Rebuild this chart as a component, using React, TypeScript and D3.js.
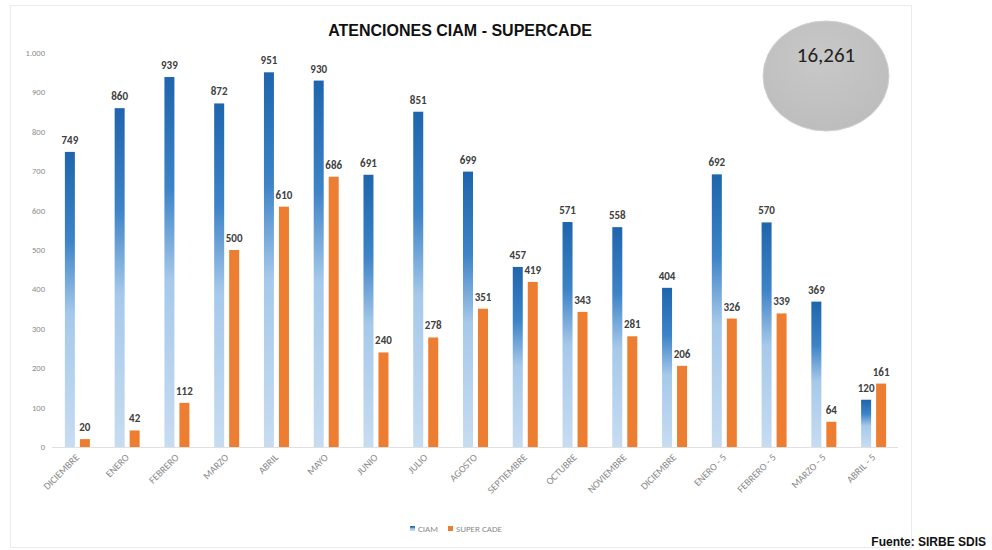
import { scaleBand, scaleLinear, format } from "d3";

const categories = [
  "DICIEMBRE", "ENERO", "FEBRERO", "MARZO", "ABRIL", "MAYO", "JUNIO", "JULIO",
  "AGOSTO", "SEPTIEMBRE", "OCTUBRE", "NOVIEMBRE", "DICIEMBRE", "ENERO - 5",
  "FEBRERO - 5", "MARZO - 5", "ABRIL - 5",
];
const ciam = [749, 860, 939, 872, 951, 930, 691, 851, 699, 457, 571, 558, 404, 692, 570, 369, 120];
const superCade = [20, 42, 112, 500, 610, 686, 240, 278, 351, 419, 343, 281, 206, 326, 339, 64, 161];
const yTicks = [0, 100, 200, 300, 400, 500, 600, 700, 800, 900, 1000];
const total = "16,261";

const W = 992;
const H = 550;

export default function App() {
  const x = scaleBand<number>()
    .domain(categories.map((_, i) => i))
    .range([52, 898]);
  const y = scaleLinear().domain([0, 1000]).range([447, 53]);
  const fmt = (v: number) => format(",")(v).replace(/,/g, ".");
  const barW = 10;
  const font = "Calibri, Carlito, 'Liberation Sans', Arial, sans-serif";

  return (
    <svg width={W} height={H} style={{ position: "absolute", left: 0, top: 0 }}>
      <defs>
        <linearGradient id="blueGrad" x1="0" y1="0" x2="0" y2="1">
          <stop offset="0%" stopColor="#1f65ad" />
          <stop offset="30%" stopColor="#3d83c7" />
          <stop offset="55%" stopColor="#a6c9ea" />
          <stop offset="100%" stopColor="#c6dcf1" />
        </linearGradient>
        <radialGradient id="ellGrad" cx="0.45" cy="0.35" r="0.7">
          <stop offset="0%" stopColor="#c8c8c8" />
          <stop offset="100%" stopColor="#bcbcbc" />
        </radialGradient>
      </defs>
      <rect x={0} y={0} width={W} height={H} fill="#fff" />
      <rect x={10.5} y={5.5} width={901} height={542} fill="none" stroke="#ebebeb" />

      <text x={460} y={36} textAnchor="middle" fontFamily="'Liberation Sans', Arial, sans-serif"
        fontWeight="bold" fontSize={16} fill="#111">ATENCIONES  CIAM - SUPERCADE</text>

      {yTicks.map((t) => (
        <text key={t} x={45} y={y(t) + 3} textAnchor="end" fontFamily={font} fontSize={8.5} fill="#8a8a8a">
          {fmt(t)}
        </text>
      ))}
      <line x1={52} x2={898} y1={y(0) + 0.5} y2={y(0) + 0.5} stroke="#e0e0e0" />

      {categories.map((c, i) => {
        const cx = x(i)! + x.bandwidth() / 2;
        const bx = cx - 7 - barW / 2;
        const ox = cx + 8 - barW / 2;
        return (
          <g key={i}>
            <rect x={bx} y={y(ciam[i])} width={barW} height={y(0) - y(ciam[i])} fill="url(#blueGrad)" />
            <rect x={ox} y={y(superCade[i])} width={barW} height={y(0) - y(superCade[i])} fill="#ed7d31" />
            <text x={bx + barW / 2} y={y(ciam[i]) - 8} textAnchor="middle" fontFamily={font}
              fontSize={11} fontWeight="bold" fill="#404040">{ciam[i]}</text>
            <text x={ox + barW / 2} y={y(superCade[i]) - 8} textAnchor="middle" fontFamily={font}
              fontSize={11} fontWeight="bold" fill="#404040">{superCade[i]}</text>
            <text transform={`translate(${cx + 3},${y(0) + 11}) rotate(-45)`} textAnchor="end"
              fontFamily={font} fontSize={10} fill="#8a8a8a">{c}</text>
          </g>
        );
      })}

      <g fontFamily={font} fontSize={9} fill="#8a8a8a">
        <rect x={410} y={526} width={5} height={5} fill="url(#blueGrad)" />
        <text x={418} y={532}>CIAM</text>
        <rect x={448} y={526} width={5} height={5} fill="#ed7d31" />
        <text x={456} y={532}>SUPER CADE</text>
      </g>

      <ellipse cx={826} cy={76} rx={63} ry={55} fill="url(#ellGrad)" stroke="#d0d0d0" />
      <text x={826} y={62} textAnchor="middle" fontFamily={font} fontSize={21} fill="#222">{total}</text>

      <text x={986} y={546} textAnchor="end" fontFamily="'Liberation Sans', Arial, sans-serif"
        fontWeight="bold" fontSize={12} fill="#111">Fuente: SIRBE SDIS</text>
    </svg>
  );
}
